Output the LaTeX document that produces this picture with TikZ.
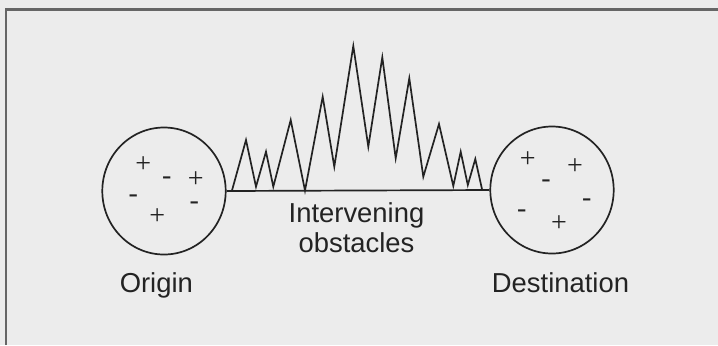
\documentclass[tikz,border=0pt]{standalone}
\usepackage{fontspec}
\setmainfont{Liberation Serif}
\newfontfamily\labelfont{Liberation Sans}
\usetikzlibrary{shapes.geometric}
\definecolor{paper}{RGB}{236,236,236}
\definecolor{ink}{RGB}{35,35,35}
\begin{document}
\begin{tikzpicture}[x=0.5pt, y=-0.5pt,
  place/.style={draw=ink, ellipse, line width=0.85pt, minimum width=61.7pt, minimum height=63.5pt, inner sep=0pt},
  sign/.style={text=ink, font=\fontsize{14}{14}\selectfont, inner sep=0pt, text height=0.45em, text depth=0pt},
  lbl/.style={text=ink, font=\labelfont\fontsize{13.7}{15}\selectfont, inner sep=0pt, anchor=base},
  ridge/.style={draw=ink, line width=0.85pt},
  frame/.style={draw=black!60, line width=1.2pt}]
\fill[paper] (0,0) rectangle (718,345);
\useasboundingbox (0,0) rectangle (718,345);
\draw[frame] (6,345) -- (6,9.5) -- (718,9.5);
% the two places
\node[place] (origin) at (164,191) {};
\node[place] (dest)   at (552,190) {};
\draw[ridge] (origin.east) -- (dest.west);
% signs inside
\foreach \x/\y/\s [count=\i] in {143.3/167.7/+, 166.7/180/-, 195.7/183/+,
    133.3/197.7/-, 194.3/205/-, 157.3/220/+}
  \node[sign] (o\i) at (\x,\y) {\s};
\foreach \x/\y/\s [count=\i] in {527.7/163.3/+, 575/170/+, 546/183.3/-,
    586.7/202/-, 521.7/213.3/-, 559/227.3/+}
  \node[sign] (d\i) at (\x,\y) {\s};
% obstacles
\draw[ridge] (231.7,191.5) -- (246,140) -- (256,186.7) -- (266,151.7) -- (273.3,186.7)
  -- (290.7,120) -- (305,190.5) -- (322.7,96.7) -- (334.3,166.7) -- (353.3,46)
  -- (368.3,146.7) -- (382.3,57.3) -- (395.7,158.3) -- (409.3,78.3) -- (423.3,176.7)
  -- (439,124) -- (453.3,186) -- (460.7,151.7) -- (467.8,185) -- (475.3,159) -- (482.3,190.5);
% labels
\node[lbl] (intv) at (356.5,222.3) {Intervening};
\node[lbl] (obst) at (356.5,252.3) {obstacles};
\node[lbl] (olbl) at (156.3,292.5) {Origin};
\node[lbl] (dlbl) at (560.5,292) {Destination};
\end{tikzpicture}
\end{document}
